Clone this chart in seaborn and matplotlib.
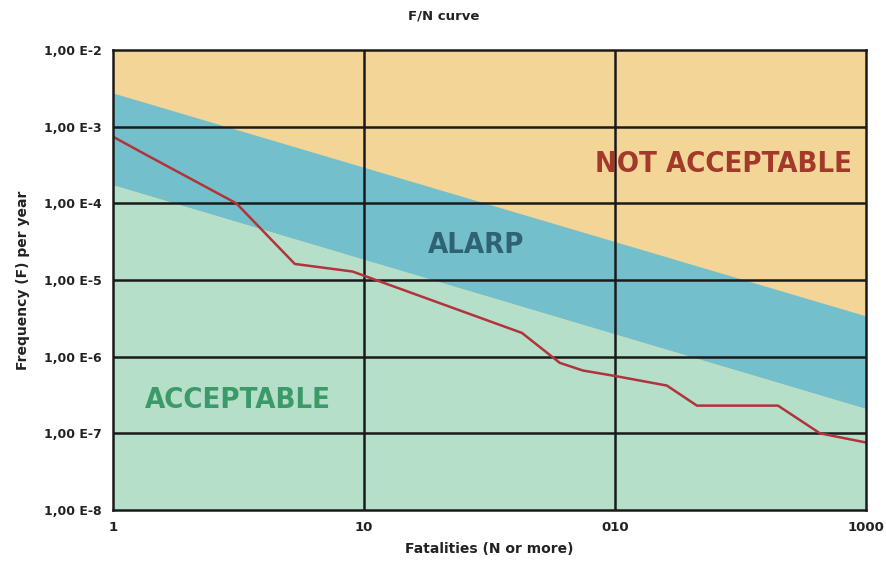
import matplotlib.pyplot as plt
import seaborn as sns
import pandas as pd
import numpy as np

sns.set_style("white")

# ======================
# DATA
# ======================
# red F/N curve
fatalities = [1, 1.32, 3.1, 5.3, 9.0, 42.6, 60.3, 74.5, 100, 161, 212, 446, 656, 1000]
frequency = [7.4e-4, 4.5e-4, 1.0e-4, 1.62e-5, 1.29e-5, 2.04e-6, 8.3e-7, 6.6e-7,
             5.6e-7, 4.2e-7, 2.3e-7, 2.3e-7, 1.0e-7, 7.6e-8]

# ALARP band limits (straight lines in log-log)
band_n = [1, 1000]
band_upper = [2.75e-3, 3.4e-6]
band_lower = [1.74e-4, 2.1e-7]

y_ticks = [1e-8, 1e-7, 1e-6, 1e-5, 1e-4, 1e-3, 1e-2]
y_labels = ["1,00 E-8", "1,00 E-7", "1,00 E-6", "1,00 E-5", "1,00 E-4", "1,00 E-3", "1,00 E-2"]
x_ticks = [1, 10, 100, 1000]
x_labels = ["1", "10", "010", "1000"]

curve_df = pd.DataFrame({"N": fatalities, "F": frequency})

# colours
c_orange = "#f3d598"
c_blue = "#74bfcc"
c_green = "#b6dfca"

# ======================
# PLOTTING
# ======================
fig = plt.figure(figsize=(8.87, 5.66), dpi=100)
ax = fig.add_axes([0.1274, 0.0989, 0.8489, 0.8128])
ax.set_xscale("log")
ax.set_yscale("log")
ax.set_xlim(1, 1000)
ax.set_ylim(1e-8, 1e-2)

ax.set_facecolor(c_orange)
ax.fill_between(band_n, band_lower, band_upper, color=c_blue, lw=0, zorder=1)
ax.fill_between(band_n, [1e-8, 1e-8], band_lower, color=c_green, lw=0, zorder=1)

sns.lineplot(data=curve_df, x="N", y="F", color="#b0343a", lw=1.8, ax=ax, zorder=4)

# grid
for yt in y_ticks[1:-1]:
    ax.axhline(yt, color="#1a1a1a", lw=1.8, zorder=3)
for xt in x_ticks[1:-1]:
    ax.axvline(xt, color="#1a1a1a", lw=1.8, zorder=3)
for sp in ax.spines.values():
    sp.set_color("#1a1a1a")
    sp.set_linewidth(1.8)
    sp.set_zorder(5)

ax.set_yticks(y_ticks)
ax.set_yticklabels(y_labels, fontsize=9, fontweight="bold", color="#222222")
ax.set_xticks(x_ticks)
ax.set_xticklabels(x_labels, fontsize=9.5, fontweight="bold", color="#222222")
ax.minorticks_off()
ax.tick_params(length=0, pad=8)

ax.set_xlabel("Fatalities (N or more)", fontsize=10, fontweight="bold", color="#222222", labelpad=6)
ax.set_ylabel("Frequency (F) per year", fontsize=10, fontweight="bold", color="#222222", labelpad=10)
fig.text(0.5, 0.972, "F/N curve", ha="center", va="center", fontsize=9.5,
         fontweight="bold", color="#222222")

# region labels
zone_font = dict(family=["DejaVu Sans"], fontweight="heavy", fontstretch="condensed",
                 ha="center", va="center", zorder=6)
ax.text(0.811, 0.752, "NOT ACCEPTABLE", transform=ax.transAxes, fontsize=21,
        color="#a2392a", **zone_font)
ax.text(0.482, 0.577, "ALARP", transform=ax.transAxes, fontsize=21,
        color="#2f6272", **zone_font)
ax.text(0.166, 0.240, "ACCEPTABLE", transform=ax.transAxes, fontsize=21,
        color="#3c9a68", **zone_font)

# ======================
# SAVE
# ======================
plt.savefig("out.png", dpi=100)
plt.close()
